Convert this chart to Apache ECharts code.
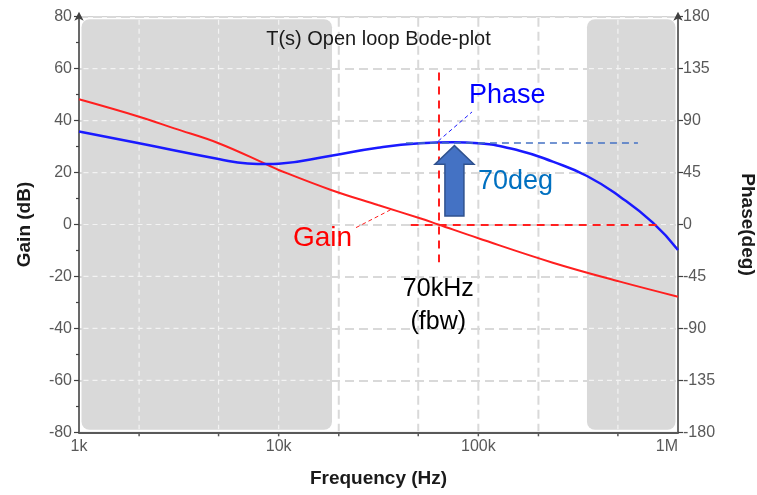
<!DOCTYPE html>
<html><head><meta charset="utf-8">
<script src="https://cdn.jsdelivr.net/npm/echarts@6/dist/echarts.min.js"></script>
<style>html,body{margin:0;padding:0;background:#fff}#c{width:757px;height:495px}</style>
</head><body><div id="c"></div>
<script>
// ---- data ----
const freqGain  = [1000, 2000, 3000, 5000, 8840, 10000, 18300, 31400, 51000, 63000, 100000, 236000, 512000, 1000000];
const gainDb    = [48.2, 41.5, 37.0, 31.3, 22.9, 21.0, 13.3, 7.5, 2.4, 0, -5.3, -14.7, -22.0, -27.8];
const freqPhase = [1000, 2000, 5000, 7000, 8800, 10000, 18300, 31400, 51000, 75000, 100000, 161000, 236000, 350000, 512000, 748000, 1000000];
const phaseDeg  = [80.5, 70.3, 56.7, 52.8, 52.3, 52.6, 59.6, 66.5, 70.3, 71.2, 70.3, 63.9, 54.4, 42.0, 24.1, 1.6, -22.0];
const freqTicks = [1000, 10000, 100000, 1000000];
const freqTickLabels = ['1k', '10k', '100k', '1M'];
const gridFreqs = [2000, 5000, 10000, 20000, 50000, 100000, 200000, 500000];
const gainTicks = [-80, -60, -40, -20, 0, 20, 40, 60, 80];
const phaseTicks = [-180, -135, -90, -45, 0, 45, 90, 135, 180];
const shadedBands = [[1000, 18500], [350000, 1000000]];
const fbw = 63000;          // crossover frequency (Hz)
const phaseMarginDeg = 71;  // phase at crossover
const arrowSpan = [75900, 7.4, 68.3]; // freq, base phase, tip phase
const notes = [
  {text: 'Phase', f: 89800, v: 111.3, axis: 1, color: '#0000ff', size: 27, align: 'left'},
  {text: '70deg', f: 99600, v: 36.8, axis: 1, color: '#0070c0', size: 27, align: 'left'},
  {text: 'Gain', f: 11800, v: -5.4, axis: 0, color: '#ff0000', size: 28, align: 'left'},
  {text: '70kHz', f: 63000, v: -25.0, axis: 0, color: '#000000', size: 25, align: 'center'},
  {text: '(fbw)', f: 63000, v: -37.7, axis: 0, color: '#000000', size: 25, align: 'center'}
];

const FONT = 'Liberation Sans, Arial, sans-serif';
const chart = echarts.init(document.getElementById('c'), null, {renderer: 'canvas'});

function fmtFreq(v) {
  for (let i = 0; i < freqTicks.length; i++) {
    if (Math.abs(v - freqTicks[i]) / freqTicks[i] < 1e-6) return freqTickLabels[i];
  }
  return '';
}
const gridGray = {stroke: '#d9d9d9', lineWidth: 2, lineDash: [9, 5]};
const gridWhite = {stroke: '#f3f3f3', lineWidth: 1.2, lineDash: [5, 4]};
const axisCol = '#404040';

const option = {
  animation: false,
  backgroundColor: '#ffffff',
  textStyle: {fontFamily: FONT},
  title: {
    text: 'T(s) Open loop Bode-plot', left: 'center', top: 24,
    textStyle: {fontSize: 20, fontWeight: 'normal', color: '#1a1a1a', fontFamily: FONT}
  },
  grid: {left: 79, right: 79, top: 16.7, bottom: 62.7, containLabel: false, outerBoundsMode: 'none',
    show: true, borderColor: '#c8c8c8', borderWidth: 1, backgroundColor: 'transparent'},
  xAxis: {
    type: 'log', logBase: 10, min: 1000, max: 1000000,
    name: 'Frequency (Hz)', nameLocation: 'middle', nameGap: 37,
    nameTextStyle: {fontSize: 19, fontWeight: 'bold', color: '#1a1a1a', fontFamily: FONT},
    axisLine: {onZero: false, lineStyle: {color: '#595959', width: 2}},
    axisTick: {show: false},
    splitLine: {show: false},
    axisLabel: {color: '#595959', fontSize: 16, margin: 6, formatter: fmtFreq, alignMinLabel: 'left', alignMaxLabel: 'right', fontFamily: FONT}
  },
  yAxis: [{
    type: 'value', min: gainTicks[0], max: gainTicks[gainTicks.length - 1], interval: 20, position: 'left',
    name: 'Gain (dB)', nameLocation: 'middle', nameGap: 45,
    nameTextStyle: {fontSize: 19, fontWeight: 'bold', color: '#1a1a1a', fontFamily: FONT},
    axisLine: {show: true, onZero: false, symbol: ['none', 'arrow'], symbolSize: [7, 9], symbolOffset: [0, 5], lineStyle: {color: axisCol, width: 1.5}},
    axisTick: {show: true, length: 5, lineStyle: {color: axisCol, width: 1.2}},
    minorTick: {show: true, splitNumber: 2, length: 3, lineStyle: {color: axisCol, width: 1.2}},
    splitLine: {show: true, lineStyle: {color: '#d9d9d9', width: 2, type: [9, 5]}},
    axisLabel: {color: '#595959', fontSize: 16, margin: 7, fontFamily: FONT}
  }, {
    type: 'value', min: phaseTicks[0], max: phaseTicks[phaseTicks.length - 1], interval: 45, position: 'right',
    name: 'Phase(deg)', nameLocation: 'middle', nameGap: 60, nameRotate: -90,
    nameTextStyle: {fontSize: 19, fontWeight: 'bold', color: '#1a1a1a', fontFamily: FONT},
    axisLine: {show: true, onZero: false, symbol: ['none', 'arrow'], symbolSize: [7, 9], symbolOffset: [0, 5], lineStyle: {color: axisCol, width: 1.5}},
    axisTick: {show: true, length: 5, lineStyle: {color: axisCol, width: 1.2}},
    splitLine: {show: false},
    axisLabel: {color: '#595959', fontSize: 16, margin: 5, fontFamily: FONT}
  }],
  series: [
    {
      type: 'custom', name: 'bands', z: 1, silent: true,
      data: shadedBands.map(b => [b[0], b[1], 0]),
      encode: {x: [0, 1], y: 2},
      renderItem: function (params, api) {
        const cs = params.coordSys;
        const x0 = api.coord([api.value(0), 0])[0];
        const x1 = api.coord([api.value(1), 0])[0];
        const inset = 2.5;
        const left = Math.max(x0, cs.x + inset);
        const right = Math.min(x1, cs.x + cs.width - inset);
        const top = cs.y + inset, bottom = cs.y + cs.height - inset;
        const children = [{type: 'rect', shape: {x: left, y: top, width: right - left, height: bottom - top, r: 8}, style: {fill: '#d9d9d9'}}];
        gainTicks.slice(1, -1).forEach(t => {
          const y = api.coord([1000, t])[1];
          children.push({type: 'line', shape: {x1: left + 2, y1: y, x2: right - 2, y2: y}, style: gridWhite});
        });
        return {type: 'group', children: children};
      }
    },
    {
      type: 'custom', name: 'vgrid', z: 2, silent: true,
      data: gridFreqs.map(f => [f, 0]),
      encode: {x: 0, y: 1},
      renderItem: function (params, api) {
        const cs = params.coordSys;
        const f = api.value(0);
        const x = api.coord([f, 0])[0];
        const inBand = shadedBands.some(b => f > b[0] && f < b[1]);
        const bottom = cs.y + cs.height;
        return {type: 'group', children: [
          {type: 'line', shape: {x1: x, y1: cs.y + (inBand ? 3 : 1), x2: x, y2: bottom - (inBand ? 3 : 1)}, style: inBand ? gridWhite : gridGray},
          {type: 'line', shape: {x1: x, y1: bottom, x2: x, y2: bottom + 4}, style: {stroke: '#595959', lineWidth: 1.5}}
        ]};
      }
    },
    {
      type: 'line', name: 'Gain', yAxisIndex: 0, z: 3,
      data: freqGain.map((f, i) => [f, gainDb[i]]),
      smooth: 0.4, symbol: 'none', showSymbol: false,
      lineStyle: {color: '#ff1f1f', width: 2},
      markLine: {
        silent: true, symbol: ['none', 'none'], label: {show: false}, animation: false,
        data: [
          [{coord: [fbw, 58.5], lineStyle: {color: '#ff1f1f', width: 2, type: [8, 6]}}, {coord: [fbw, -14.5]}],
          [{coord: [45800, 0], lineStyle: {color: '#ff1f1f', width: 2, type: [8, 6]}}, {coord: [781000, 0]}],
          [{coord: [24400, -1.2], lineStyle: {color: '#ff1f1f', width: 1, type: [4, 3]}}, {coord: [37500, 6.2]}]
        ]
      }
    },
    {
      type: 'line', name: 'Phase', yAxisIndex: 1, z: 3,
      data: freqPhase.map((f, i) => [f, phaseDeg[i]]),
      smooth: 0.5, symbol: 'none', showSymbol: false,
      lineStyle: {color: '#1a1aff', width: 2.5},
      markLine: {
        silent: true, symbol: ['none', 'none'], label: {show: false}, animation: false,
        data: [
          [{coord: [43400, phaseMarginDeg], lineStyle: {color: '#4472c4', width: 1.6, type: [7, 5]}}, {coord: [630000, phaseMarginDeg]}],
          [{coord: [fbw, 72.3], lineStyle: {color: '#1a1aff', width: 1, type: [4, 3]}}, {coord: [93000, 97.5]}]
        ]
      }
    },
    {
      type: 'custom', name: 'arrow', yAxisIndex: 1, z: 5, silent: true,
      data: [arrowSpan],
      encode: {x: 0, y: [1, 2]},
      renderItem: function (params, api) {
        const b = api.coord([api.value(0), api.value(1)]);
        const t = api.coord([api.value(0), api.value(2)]);
        const cx = b[0], shaftW = 19, headW = 39, headH = 18.5;
        const hb = t[1] + headH;
        const pts = [[cx - shaftW / 2, b[1]], [cx - shaftW / 2, hb], [cx - headW / 2, hb], [cx, t[1]], [cx + headW / 2, hb], [cx + shaftW / 2, hb], [cx + shaftW / 2, b[1]]];
        return {type: 'polygon', shape: {points: pts}, style: {fill: '#4472c4', stroke: '#2f528f', lineWidth: 1.5}};
      }
    }
  ]
};
chart.setOption(option);

// annotation texts anchored to data coordinates
const graphics = notes.map(n => {
  const p = chart.convertToPixel({xAxisIndex: 0, yAxisIndex: n.axis}, [n.f, n.v]);
  return {
    type: 'text', x: p[0], y: p[1], z: 10, silent: true,
    style: {text: n.text, fill: n.color, font: n.size + 'px ' + FONT, align: n.align, verticalAlign: 'middle'}
  };
});
chart.setOption({graphic: graphics});
</script>
</body></html>
